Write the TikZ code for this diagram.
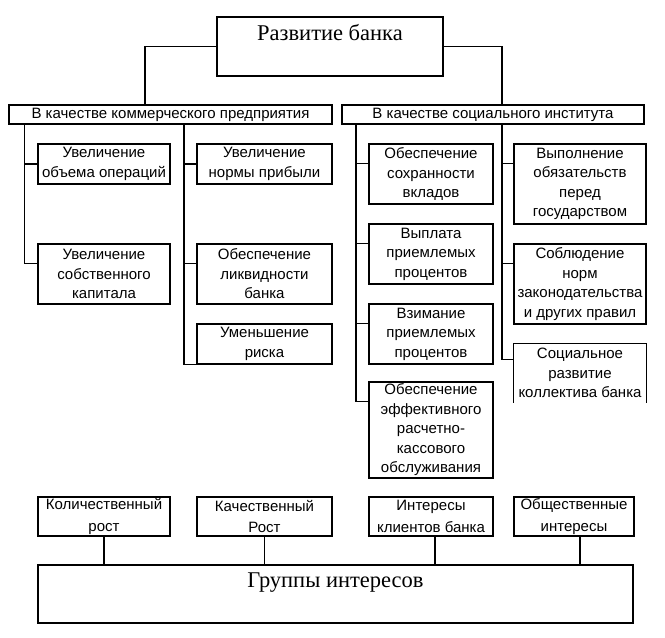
\documentclass[tikz,border=0pt]{standalone}
\usepackage{fontspec}
\setmainfont{Liberation Serif}
\setsansfont{Liberation Sans}
\begin{document}
\begin{tikzpicture}[x=1pt,y=-1pt,
  ln/.style={line width=1.3pt},
  box/.style={draw, line width=1.3pt, inner sep=0pt, align=center,
    font=\sffamily\fontsize{15}{19.5}\selectfont},
  band/.style={draw, line width=1.3pt, inner sep=0pt, minimum height=19pt,
    font=\sffamily\fontsize{15}{16}\selectfont},
  gbox/.style={draw, line width=1.3pt, inner sep=0pt, align=center,
    font=\sffamily\fontsize{15}{21.5}\selectfont, minimum height=39pt},
  bigbox/.style={draw, line width=1.3pt, inner sep=0pt,
    font=\rmfamily\fontsize{22.5}{26}\selectfont}
]
\useasboundingbox[fill=white] (0,0) rectangle (665,638);

% top
\node[bigbox, minimum width=226pt, text height=23pt, text depth=36pt] (top) at (330,46.5) {Развитие банка};

% bands
\node[band, minimum width=323pt] (lband) at (170.5,114.5) {В качестве коммерческого предприятия};
\node[band, minimum width=302pt] (rband) at (493,114.5) {В качестве социального института};

\coordinate (cl) at (145,0);
\coordinate (cr) at (502,0);
\draw[ln] (top.west) -| (lband.north -| cl);
\draw[ln] (top.east) -| (rband.north -| cr);

% column 1
\node[box, minimum width=132pt, minimum height=40pt] (b11) at (104,164) {Увеличение\\объема операций};
\node[box, minimum width=132pt, minimum height=60pt] (b12) at (104,274) {Увеличение\\собственного\\капитала};
% column 2
\node[box, minimum width=135pt, minimum height=40pt] (b21) at (264.5,164) {Увеличение\\нормы прибыли};
\node[box, minimum width=135pt, minimum height=60pt] (b22) at (264.5,274) {Обеспечение\\ликвидности\\банка};
\node[box, minimum width=135pt, minimum height=40pt] (b23) at (264.5,344) {Уменьшение\\риска};
% column 3
\node[box, minimum width=124pt, minimum height=60pt] (b31) at (431,174) {Обеспечение\\сохранности\\вкладов};
\node[box, minimum width=124pt, minimum height=60pt] (b32) at (431,254) {Выплата\\приемлемых\\процентов};
\node[box, minimum width=124pt, minimum height=60pt] (b33) at (431,334) {Взимание\\приемлемых\\процентов};
\node[box, minimum width=124pt, minimum height=96pt] (b34) at (431,430) {Обеспечение\\эффективного\\расчетно-\\кассового\\обслуживания};
% column 4
\node[box, minimum width=132pt, minimum height=80pt] (b41) at (580,184) {Выполнение\\обязательств\\перед\\государством};
\node[box, minimum width=132pt, minimum height=80pt] (b42) at (580,284) {Соблюдение\\норм\\законодательства\\и других правил};
\node[box, draw=none, minimum width=132pt, minimum height=58pt] (b43) at (580,373) {Социальное\\развитие\\коллектива банка};
\draw[ln] (b43.south west) |- (b43.north east) -- (b43.south east);

\coordinate (c1) at (24.5,0);
\coordinate (c2) at (184,0);
\coordinate (c3) at (356,0);
\coordinate (c4) at (502,0);

\draw[ln] (lband.south -| c1) |- (b11.west);
\draw[ln] (lband.south -| c1) |- ([yshift=-20pt]b12.north west);

\draw[ln] (lband.south -| c2) |- (b21.west);
\draw[ln] (lband.south -| c2) |- ([yshift=-20pt]b22.north west);
\draw[ln] (lband.south -| c2) |- (b23.south west);

\draw[ln] (rband.south -| c3) |- ([yshift=-20pt]b31.north west);
\draw[ln] (rband.south -| c3) |- ([yshift=-20pt]b32.north west);
\draw[ln] (rband.south -| c3) |- ([yshift=-20pt]b33.north west);
\draw[ln] (rband.south -| c3) |- ([yshift=-20pt]b34.north west);

\draw[ln] (rband.south -| c4) |- ([yshift=-20pt]b41.north west);
\draw[ln] (rband.south -| c4) |- ([yshift=-20pt]b42.north west);
\draw[ln] (rband.south -| c4) |- ([yshift=-16pt]b43.north west);

% interest groups
\node[gbox, minimum width=132pt] (q1) at (104,516.5) {Количественный\\рост};
\node[gbox, minimum width=135pt] (q2) at (264.5,516.5) {Качественный\\Рост};
\node[gbox, minimum width=124pt] (q3) at (431,516.5) {Интересы\\клиентов банка};
\node[gbox, minimum width=120pt] (q4) at (574,516.5) {Общественные\\интересы};

\node[bigbox, minimum width=595pt, text height=22pt, text depth=36pt] (groups) at (335.5,594) {Группы интересов};

\draw[ln] (q1.south) -- (q1.south |- groups.north);
\draw[ln] (q2.south) -- (q2.south |- groups.north);
\draw[ln] ([xshift=4pt]q3.south) -- ([xshift=4pt]q3.south |- groups.north);
\draw[ln] ([xshift=6pt]q4.south) -- ([xshift=6pt]q4.south |- groups.north);
\end{tikzpicture}
\end{document}
